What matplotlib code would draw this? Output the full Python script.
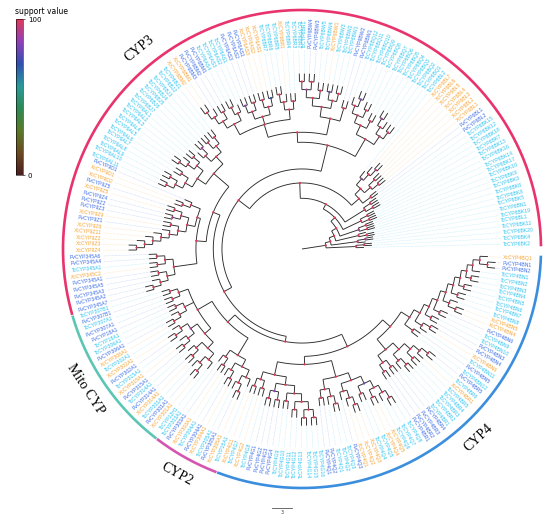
import numpy as np
import matplotlib
matplotlib.use("Agg")
import matplotlib.pyplot as plt
from matplotlib.collections import LineCollection
from matplotlib.colors import LinearSegmentedColormap

# ---- data: tree pieces (newick, branch lengths in substitutions, node labels = support) ----
BK_N0 = "(TcCYP6BK2,(TcCYP6BK4,TcCYP6BK20)100)100:4.5"
BK_N1 = "(TcCYP6BK11,(TcCYP6BL1,TcCYP6BK19)90)98:4"
BK_N2 = "((TcCYP6BN1,TcCYP6BK5)100,TcCYP6BK8)100:3.5"
BK_N3 = "((TcCYP6BK6,TcCYP6BK3)100,(TcCYP6BK9,TcCYP6BK10)100)90:3"
BK_N4 = "((TcCYP6BK17,TcCYP6BK14)100,(TcCYP6BK16,TcCYP6BK13)100)100:3"
BK_N5 = "((TcCYP6BK7,TcCYP6BK18)100,(TcCYP6BK12,TcCYP6BK15)100)100:3.5"
BL = """((PvCYP6BL2,PvCYP6BL1)100:1.5,(((XcCYP6BL1,XcCYP6BL2)100,(XcCYP6BL3,XcCYP6BL4)100)100,
(((XcCYP6BL5,XcCYP6BL6)95,XcCYP6BL7)100,TcCYP6BL2)90)100:1.2)"""
G1 = """(((TcCYP6BQ1,TcCYP6BQ2)100,(TcCYP6BQ3,(TcCYP6BQ4,TcCYP6BQ5)90)100)100:1.5,
((TcCYP6BQ6,TcCYP6BQ7)100,((TcCYP6BQ8,TcCYP6BQ9)100,((TcCYP6BQ10,TcCYP6BQ11)85,TcCYP6BQ12)100)100)100:1.5)"""
G2 = """((PvCYP6BW1,PvCYP6BW2)100:2,(((TcCYP6BW1,TcCYP6BW2)100,(TcCYP6BW3,XcCYP6BW1)80)100,
((TcCYP6BW4,TcCYP6BW5)100,((PvCYP6BW3,PvCYP6BW4)100,(TcCYP6BR1,TcCYP6BR2)100)90)100)100:1.5)"""
G3 = """(((TcCYP6BR3,TcCYP6BR4)100,(XcCYP6BR1,(TcCYP6BR5,TcCYP6BR6)100)100)100:1.5,
(((TcCYP6BR7,XcCYP6AS1)70,(XcCYP6AS2,XcCYP6AS3)100)100,((PvCYP6AS1,PvCYP6AS2)100,(PvCYP6AS3,TcCYP6AS1)85)100)100:1.2,
((TcCYP6AS2,(TcCYP6AS3,TcCYP6AS4)100)100,((PvCYP6BM1,PvCYP6BM2)100,(PvCYP6BM3,(XcCYP6BM1,XcCYP6BM2)100)100)100)100:1.8)"""
G4 = """((((TcCYP6BJ1,TcCYP6BJ2)100,(TcCYP6BJ3,TcCYP6BJ4)100)100,((TcCYP6BJ5,TcCYP6BJ6)90,TcCYP6BJ7)100)100:1.5,
(((TcCYP9AL1,TcCYP9AL2)100,(TcCYP9AL3,(TcCYP9AL4,TcCYP9AL5)100)100)95,
((TcCYP9AL6,TcCYP9AL7)100,((TcCYP9AL8,TcCYP9AL9)100,(TcCYP9AL10,TcCYP9AL11)100)100)100)100:1.5)"""
G5 = """((PvCYP9D1,(XcCYP9D1,XcCYP9D2)100)100:1.5,(((PvCYP9Z5,XcCYP9Z5)100,(PvCYP9Z4,PvCYP9Z2)90)100,
((PvCYP9Z3,XcCYP9Z9)100,(PvCYP9Z1,(XcCYP9Z6,(XcCYP9Z11,(XcCYP9Z2,(XcCYP9Z3,XcCYP9Z4)100)100)100)100)100)100)100:1.2)"""
G6 = """(((PvCYP345A6,PvCYP345A4)100,(TcCYP345A1,XcCYP345C2)100)100,
((PvCYP345A1,PvCYP345A5)100,(PvCYP345A3,(PvCYP345A2,PvCYP345A7)100)100)100)"""
MITO = """(((TcCYP307B1,PvCYP307B1)100,(TcCYP307A1,PvCYP307A1)100)100:1.5,
((PvCYP18A1,TcCYP18A1)100,(TcCYP306A1,(PvCYP306A1,XcCYP306A1)100)100)100:1.5,
(((TcCYP302A1,(XcCYP302A1,PvCYP302A1)100)100,(TcCYP315A1,(XcCYP315A1,PvCYP315A1)100)100)90,
((TcCYP314A1,(PvCYP314A1,XcCYP314A1)100)100,((TcCYP301A1,(PvCYP301A1,XcCYP301A1)100)100,TcCYP12H1)100)100)100:1.2)"""
CYP2 = """((TcCYP303A1,(PvCYP303A1,XcCYP303A1)100)100,((TcCYP304A1,(PvCYP304A1,XcCYP304A1)100)100,
((TcCYP305A1,(PvCYP305A1,XcCYP305A1)100)100,TcCYP15A1)100)95)"""
G7 = """(((XcCYP4G1,TcCYP4G7)100,(XcCYP4G2,TcCYP4G8)100)100:1.2,(((PvCYP4G1,PvCYP4G2)100,(PvCYP4G3,PvCYP4G4)100)85,
((TcCYP4G9,TcCYP4G10)100,((TcCYP4G11,TcCYP4G12)100,((TcCYP4G13,TcCYP4G14)100,(TcCYP4G15,TcCYP4G16)100)100)100)100)100:1.2)"""
G8 = """(((PvCYP4Q1,PvCYP4Q2)100,(TcCYP4Q1,(TcCYP4Q2,TcCYP4Q3)100)100)100:1.5,
((PvCYP4Q3,(XcCYP4Q1,(XcCYP4Q2,XcCYP4Q3)100)100)100,((TcCYP4Q4,TcCYP4Q5)100,
((XcCYP4Q4,XcCYP4Q5)100,(TcCYP4Q6,(TcCYP4Q7,TcCYP4Q8)100)100)100)80)100:1.2)"""
G9 = """(((PvCYP4BR1,PvCYP4BR2)100,(PvCYP4BR3,PvCYP4BR4)100)100:1.3,((TcCYP4BR1,(TcCYP4BR2,TcCYP4BR3)100)100,
((TcCYP4BR4,TcCYP4BR5)100,(XcCYP4BR1,(TcCYP4BR6,PvCYP4BR5)100)100)100)100:1.3)"""
G10 = """((TcCYP4BN12,PvCYP4BN5)100:1.5,
 ((TcCYP4BN11,(XcCYP4BN6,PvCYP4BN4)100)100:1.2,
  ((PvCYP4BN3,TcCYP4BN10)100:1,
   ((TcCYP4BN9,PvCYP4BN6)100:1,
    (((XcCYP4BN4,XcCYP4BN5)100,TcCYP4BN8)100:1,
     ((TcCYP4BN7,TcCYP4BN6)100:1,
      ((TcCYP4BN5,TcCYP4BN4)100:0.8,
       ((TcCYP4BN3,TcCYP4BN2)100:0.8,
        (TcCYP4BN1,((PvCYP4BN2,PvCYP4BN1)100,XcCYP4BQ1)100:1)100:0.8
       )100:0.8
      )100:0.8
     )100:0.8
    )100:0.8
   )100:0.8
  )100:0.8
 )100:1
)"""

TOP = f"({G1}:3,({G2}:2.5,{G3}:2)100:1.5)"
LEFT = f"({G4}:3,({G5}:0.5,{G6}:3.5)100:1.5)"
CYP4 = f"(({G7}:2,{G8}:2.5)100:1.2,({G9}:2,{G10}:1.5)100:1.5)"
NONCYP3 = f"(({MITO}:2.5,{CYP2}:3)100:1.5,{CYP4}:2)"
BIG = f"({LEFT}100:1.1,{NONCYP3}100:0.8)"
REST2 = f"({TOP}100:4,{BIG}100:1.3)"
N6 = f"({BL}100:1.5,{REST2}100:2.1)"
N5 = f"({BK_N5},{N6}100:2.3)"
N4 = f"({BK_N4},{N5}100:0.8)"
N3 = f"({BK_N3},{N4}100:0.8)"
N2 = f"({BK_N2},{N3}100:0.8)"
N1 = f"({BK_N1},{N2}100:0.8)"
TREE = f"({BK_N0},{N1}100:0.8)100"

CLANS = [("CYP3", "TcCYP6BK2", "PvCYP345A7"),
         ("Mito CYP", "TcCYP307B1", "TcCYP12H1"),
         ("CYP2", "TcCYP303A1", "TcCYP15A1"),
         ("CYP4", "XcCYP4G1", "XcCYP4BQ1")]
SPECIES_COLORS = {"Tc": "#2cc3f2", "Pv": "#3b6ce6", "Xc": "#f7a332"}
CLAN_COLORS = {"CYP3": "#e8336d", "Mito CYP": "#5cc6b5", "CYP2": "#d456b0", "CYP4": "#3b8ede"}
CLAN_LABEL_ANGLE = {"CYP3": 129, "Mito CYP": 213, "CYP2": 241, "CYP4": 313}
SUPPORT_COLORS = ["#4a1e1e", "#6b4a22", "#5a7a2a", "#2e8a55", "#2a9a9a", "#3050b0", "#9040b8", "#e03a5a"]

# ---- layout constants (pixels) ----
PX = 6.67          # pixels per substitution unit (scale bar 3 = 20 px)
ROOT_STUB = 3.6
DEFAULT_LEN = 1.2
START, STEP = 1.4, 1.657
R_LABEL, R_RING, R_CLAN = 201, 239, 258


def parse(s):
    s = "".join(s.split())
    pos = 0

    def node():
        nonlocal pos
        n = {"children": [], "name": "", "len": None, "sup": None}
        if s[pos] == "(":
            pos += 1
            while True:
                n["children"].append(node())
                c = s[pos]
                pos += 1
                if c == ")":
                    break
        st = pos
        while pos < len(s) and s[pos] not in ",():;":
            pos += 1
        lab = s[st:pos]
        if n["children"]:
            n["sup"] = float(lab) if lab else 100.0
        else:
            n["name"] = lab
        if pos < len(s) and s[pos] == ":":
            pos += 1
            st = pos
            while pos < len(s) and s[pos] not in ",();":
                pos += 1
            n["len"] = float(s[st:pos])
        return n
    return node()


tree = parse(TREE)
leaves = []


def layout(n, r):
    n["r"] = r
    if not n["children"]:
        n["a"] = START + len(leaves) * STEP
        leaves.append(n)
        return
    for c in n["children"]:
        layout(c, r + (c["len"] if c["len"] is not None else DEFAULT_LEN))
    n["a"] = (n["children"][0]["a"] + n["children"][-1]["a"]) / 2


layout(tree, ROOT_STUB)


def pol(r, a):
    t = np.radians(a)
    return r * np.cos(t), r * np.sin(t)


segs, dots = [], []
segs.append([pol(0, tree["a"]), pol(ROOT_STUB * PX, tree["a"])])


def draw(n):
    if not n["children"]:
        return
    a0, a1 = n["children"][0]["a"], n["children"][-1]["a"]
    aa = np.linspace(a0, a1, max(2, int(abs(a1 - a0) * 2)))
    t = np.radians(aa)
    segs.append(np.column_stack([n["r"] * PX * np.cos(t), n["r"] * PX * np.sin(t)]))
    for c in n["children"]:
        segs.append([pol(n["r"] * PX, c["a"]), pol(c["r"] * PX, c["a"])])
        draw(c)
    dots.append((*pol(n["r"] * PX, n["a"]), n["sup"]))


draw(tree)

cmap = LinearSegmentedColormap.from_list("support", SUPPORT_COLORS)

fig = plt.figure(figsize=(5.5, 5.2), dpi=100)
ax = fig.add_axes([0, 0, 1, 1])
ax.set_xlim(-302, 248)
ax.set_ylim(-271, 249)
ax.axis("off")

# leader lines and labels
for lf in leaves:
    col = SPECIES_COLORS[lf["name"][:2]]
    x0, y0 = pol(lf["r"] * PX + 1, lf["a"])
    x1, y1 = pol(R_LABEL - 2, lf["a"])
    ax.plot([x0, x1], [y0, y1], color=col, lw=0.4, alpha=0.3, ls=(0, (1.5, 1)))
    a = lf["a"] % 360
    tx, ty = pol(R_LABEL, a)
    if 90 < a < 270:
        ax.text(tx, ty, lf["name"], rotation=a - 180, rotation_mode="anchor", ha="right",
                va="center", fontsize=3.7, color=col, family="Liberation Sans")
    else:
        ax.text(tx, ty, lf["name"], rotation=a, rotation_mode="anchor", ha="left",
                va="center", fontsize=3.7, color=col, family="Liberation Sans")

ax.add_collection(LineCollection(segs, colors="#2b2b2b", linewidths=0.65))
d = np.array(dots)
ax.scatter(d[:, 0], d[:, 1], c=d[:, 2], cmap=cmap, vmin=0, vmax=100, s=2.8, lw=0, zorder=3)

# clan rings and labels
names = [lf["name"] for lf in leaves]
for clan, first, last in CLANS:
    a0 = leaves[names.index(first)]["a"] - STEP * 0.45
    a1 = leaves[names.index(last)]["a"] + STEP * 0.45
    t = np.radians(np.linspace(a0, a1, 300))
    ax.plot(R_RING * np.cos(t), R_RING * np.sin(t), color=CLAN_COLORS[clan], lw=1.9,
            solid_capstyle="butt")
    la = CLAN_LABEL_ANGLE[clan]
    rot = la - 90
    if rot > 90:
        rot -= 180
    lx, ly = pol(R_CLAN, la)
    ax.text(lx, ly, clan, rotation=rot, ha="center", va="center", fontsize=10,
            family="Liberation Serif", color="black")

# scale bar
ax.plot([-20 - 1.5 * PX, -20 + 1.5 * PX], [-259, -259], color="#555555", lw=0.6)
ax.text(-20, -264, "3", ha="center", va="center", fontsize=3.5, color="#444444")

# support colorbar
cax = fig.add_axes([0.029, 0.663, 0.0127, 0.300])
sm = plt.cm.ScalarMappable(cmap=cmap, norm=plt.Normalize(0, 100))
cb = fig.colorbar(sm, cax=cax, ticks=[0, 100])
cb.ax.tick_params(labelsize=5, length=1.5, width=0.4, pad=2)
cb.outline.set_linewidth(0.4)
fig.text(0.076, 0.978, "support value", ha="center", va="center", fontsize=5.5)

fig.savefig("out.png", dpi=100)
